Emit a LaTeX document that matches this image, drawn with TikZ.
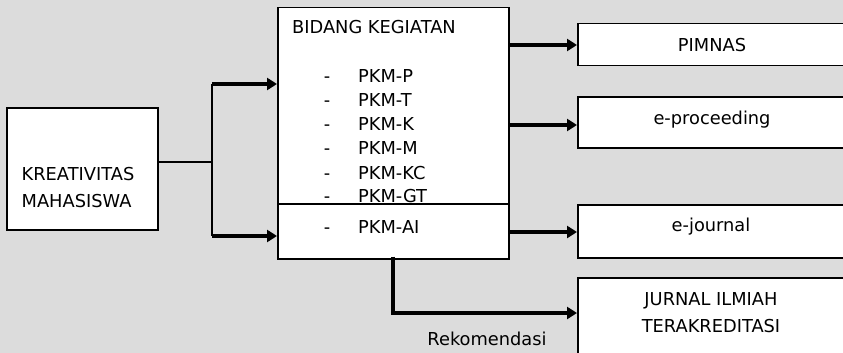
\documentclass[tikz,border=0pt]{standalone}
\usepackage{fontspec}
\setmainfont{DejaVu Sans}
\usetikzlibrary{arrows.meta}
\definecolor{bg}{RGB}{220,220,220}
\tikzset{
  box/.style={draw=black, line width=1.5pt, fill=white, inner sep=0pt, anchor=north west},
  txt/.style={inner sep=0pt, font=\fontsize{17.8}{21}\selectfont, text=black},
  conn/.style={line width=2.2pt, draw=black},
  arr/.style={line width=3.4pt, draw=black, -{Triangle[length=10pt,width=12pt]}}
}
\begin{document}
\begin{tikzpicture}[x=1pt,y=-1pt]
\fill[bg] (0,0) rectangle (843,353);
\useasboundingbox (0,0) rectangle (843,353);
\clip (0,0) rectangle (843,353);
% boxes
\node[box, minimum width=151pt, minimum height=122pt] (kre) at (6,107) {};
\node[box, minimum width=231pt, minimum height=251pt] (main) at (277,7) {};
\coordinate (divL) at (277,204);
\draw[line width=1.5pt, draw=black] (divL) -- (divL -| main.east);
\node[box, minimum width=290pt, minimum height=42pt] (pim) at (577,23) {};
\node[box, minimum width=290pt, minimum height=51pt] (epr) at (577,96) {};
\node[box, minimum width=290pt, minimum height=53pt] (ejo) at (577,204) {};
\node[box, minimum width=290pt, minimum height=100pt] (jur) at (577,277) {};
% texts
\node[txt, anchor=base west] (k1) at (21.5,180) {KREATIVITAS};
\node[txt, anchor=base west] (k2) at (21.5,207) {MAHASISWA};
\node[txt, anchor=base west] (bk) at (292,34) {BIDANG KEGIATAN};
\foreach \n/\t/\y in {p/PKM-P/82, t/PKM-T/106, k/PKM-K/130, m/PKM-M/154, kc/PKM-KC/179, gt/PKM-GT/202, ai/PKM-AI/233}{
  \node[txt, anchor=base] (d\n) at (327,\y) {-};
  \node[txt, anchor=base west] (l\n) at (358,\y) {\t};
}
\node[txt, anchor=base] (tpim) at (712,52) {PIMNAS};
\node[txt, anchor=base] (tepr) at (712,124) {e-proceeding};
\node[txt, anchor=base] (tejo) at (711,231) {e-journal};
\node[txt, anchor=base] (tj1) at (711,305) {JURNAL ILMIAH};
\node[txt, anchor=base] (tj2) at (711,332) {TERAKREDITASI};
\node[txt, anchor=base] (rek) at (487,345) {Rekomendasi};
% left connectors
\coordinate (j) at (212,162);
\coordinate (jt) at (212,84);
\coordinate (jb) at (212,236);
\draw[conn] (kre.east |- j) -- (j);
\draw[conn] (jt) -- (jb);
\draw[arr] (jt) -- (jt -| main.west);
\draw[arr] (jb) -- (jb -| main.west);
% right connectors
\coordinate (r1) at (508,45);
\coordinate (r2) at (508,125);
\coordinate (r3) at (508,232);
\draw[arr] (r1) -- (r1 -| pim.west);
\draw[arr] (r2) -- (r2 -| epr.west);
\draw[arr] (r3) -- (r3 -| ejo.west);
% rekomendasi
\coordinate (rk) at (393,313);
\draw[arr] ([yshift=3pt]rk |- main.south) |- (rk -| jur.west);
\end{tikzpicture}
\end{document}
